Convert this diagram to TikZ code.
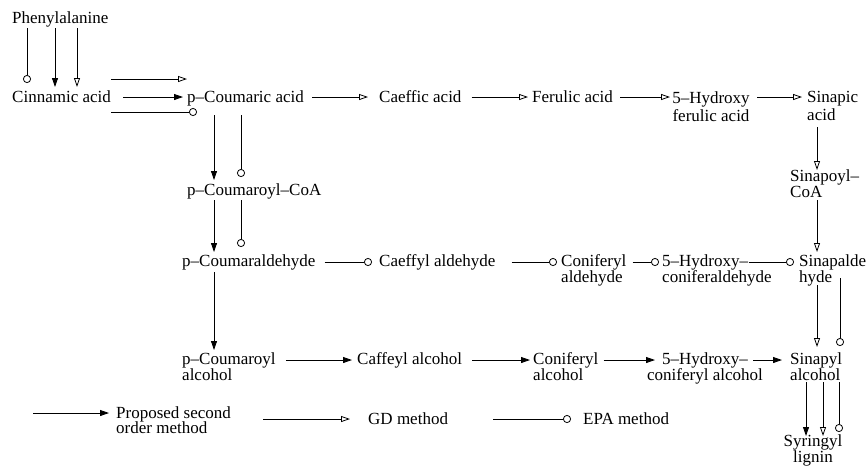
\documentclass[tikz,border=0pt]{standalone}
\usepackage{fontspec}
\setmainfont{Liberation Serif}
\usetikzlibrary{arrows.meta}

% label font and two-line labels (baseline = first line)
\newcommand\lbfont{\fontsize{17}{16.5}\selectfont}
\newcommand\twoc[3]{\vtop{\baselineskip=#1\relax\lineskiplimit=-100pt\halign{\hfil##\hfil\cr#2\cr#3\cr}}}
\newcommand\twoL[3]{\vtop{\baselineskip=#1\relax\lineskiplimit=-100pt\halign{##\hfil\cr#2\cr#3\cr}}}

\tikzset{
  lbl/.style={inner sep=0pt, font=\lbfont},
  conn/.style={line width=0.8pt, black},
  fa/.style={conn, -{Triangle[length=9pt,width=6pt]}},
  oa/.style={conn, -{Triangle[open,length=9pt,width=6pt]}},
  ca/.style={conn, -{Circle[open,length=8pt,width=8pt]}},
}

\begin{document}
\begin{tikzpicture}[x=1pt,y=1pt]
\useasboundingbox (0,0) rectangle (867,-467);

% compounds
\node[lbl,anchor=base west] (phe) at (12,-23) {Phenylalanine};
\node[lbl,anchor=base west] (cin) at (12,-102) {Cinnamic acid};
\node[lbl,anchor=base west] (pca) at (187,-102) {p–Coumaric acid};
\node[lbl,anchor=base west] (caf) at (379,-102) {Caeffic acid};
\node[lbl,anchor=base west] (fer) at (532,-102) {Ferulic acid};
\node[lbl,anchor=base] (hfa) at (711,-103) {\twoc{18pt}{5–Hydroxy}{ferulic acid}};
\node[lbl,anchor=base west] (sin) at (807,-102) {\twoL{18pt}{Sinapic}{acid}};
\node[lbl,anchor=base west] (pcc) at (187,-195) {p–Coumaroyl–CoA};
\node[lbl,anchor=base west] (spc) at (790,-181) {\twoL{16pt}{Sinapoyl–}{CoA}};
\node[lbl,anchor=base west] (pcald) at (182,-266) {p–Coumaraldehyde};
\node[lbl,anchor=base west] (cald) at (379,-266) {Caeffyl aldehyde};
\node[lbl,anchor=base west] (coald) at (561,-266) {\twoL{16pt}{Coniferyl}{aldehyde}};
\node[lbl,anchor=base west] (hcald) at (662,-266) {\twoL{16pt}{5–Hydroxy–}{coniferaldehyde}};
\node[lbl,anchor=base west] (spald) at (799,-266) {\twoL{16pt}{Sinapalde}{hyde}};
\node[lbl,anchor=base west] (pcalc) at (182,-364) {\twoL{16pt}{p–Coumaroyl}{alcohol}};
\node[lbl,anchor=base west] (caalc) at (357,-364) {Caffeyl alcohol};
\node[lbl,anchor=base west] (coalc) at (533,-364) {\twoL{16pt}{Coniferyl}{alcohol}};
\node[lbl,anchor=base] (hcalc) at (705,-364) {\twoc{16pt}{5–Hydroxy–}{coniferyl alcohol}};
\node[lbl,anchor=base west] (spalc) at (790,-364) {\twoL{16pt}{Sinapyl}{alcohol}};
\node[lbl,anchor=base] (syr) at (813,-446) {\twoc{16pt}{Syringyl}{lignin}};

% legend
\node[lbl,anchor=base west] (lg1) at (116,-418) {\twoL{15.5pt}{Proposed second}{order method}};
\node[lbl,anchor=base west] (gd) at (368,-424) {GD method};
\node[lbl,anchor=base west] (epa) at (583,-424) {EPA method};

% Phenylalanine -> Cinnamic acid
\draw[ca] ([xshift=15,yshift=-5]phe.base west) -- ([xshift=15,yshift=19]cin.base west);
\draw[fa] ([xshift=43,yshift=-5]phe.base west) -- ([xshift=43,yshift=15]cin.base west);
\draw[oa] ([xshift=65,yshift=-5]phe.base west) -- ([xshift=65,yshift=15]cin.base west);

% Cinnamic acid -> p-Coumaric acid
\draw[oa] ([yshift=23]cin.base east) -- ([yshift=23]pca.base west);
\draw[fa] ([xshift=12,yshift=5]cin.base east) -- ([xshift=-4,yshift=5]pca.base west);
\draw[ca] ([yshift=-10]cin.base east) -- ([xshift=10,yshift=-10]pca.base west);

% acid row
\draw[oa] ([xshift=8,yshift=5]pca.base east) -- ([xshift=-11,yshift=5]caf.base west);
\draw[oa] ([xshift=10,yshift=5]caf.base east) -- ([xshift=-4,yshift=5]fer.base west);
\draw[oa] ([xshift=7,yshift=5]fer.base east) -- ([xshift=-41,yshift=6]hfa.base);
\draw[oa] ([xshift=46,yshift=6]hfa.base) -- ([xshift=-5,yshift=5]sin.base west);

% sinapyl branch
\draw[oa] ([xshift=10,yshift=-25]sin.base west) -- ([xshift=27,yshift=11]spc.base west);
\draw[oa] ([xshift=27,yshift=-19]spc.base west) -- ([xshift=18,yshift=14]spald.base west);
\draw[oa] ([xshift=18,yshift=-19]spald.base west) -- ([xshift=27,yshift=17]spalc.base west);
\draw[ca] ([xshift=41,yshift=-12]spald.base west) -- ([xshift=50,yshift=18]spalc.base west);
\draw[fa] ([xshift=16,yshift=-18]spalc.base west) -- ([xshift=-7,yshift=10]syr.base);
\draw[oa] ([xshift=33,yshift=-18]spalc.base west) -- ([xshift=10,yshift=10]syr.base);
\draw[ca] ([xshift=49,yshift=-18]spalc.base west) -- ([xshift=26,yshift=14]syr.base);

% p-coumaryl branch
\draw[fa] ([xshift=27,yshift=-13]pca.base west) -- ([xshift=27,yshift=15]pcc.base west);
\draw[ca] ([xshift=54,yshift=-13]pca.base west) -- ([xshift=54,yshift=18]pcc.base west);
\draw[fa] ([xshift=27,yshift=-5]pcc.base west) -- ([xshift=32,yshift=14]pcald.base west);
\draw[ca] ([xshift=54,yshift=-5]pcc.base west) -- ([xshift=59,yshift=19]pcald.base west);
\draw[fa] ([xshift=32,yshift=-6]pcald.base west) -- ([xshift=32,yshift=14]pcalc.base west);

% aldehyde row
\draw[ca] ([xshift=9,yshift=4]pcald.base east) -- ([xshift=-7,yshift=4]cald.base west);
\draw[ca] ([xshift=16,yshift=4]cald.base east) -- ([xshift=-4,yshift=4]coald.base west);
\draw[ca] ([xshift=6,yshift=4]coald.base east) -- ([xshift=-3,yshift=4]hcald.base west);
\draw[ca] ([xshift=-23,yshift=4]hcald.base east) -- ([xshift=-5,yshift=4]spald.base west);

% alcohol row
\draw[fa] ([xshift=10,yshift=4]pcalc.base east) -- ([xshift=-5,yshift=4]caalc.base west);
\draw[fa] ([xshift=10,yshift=4]caalc.base east) -- ([xshift=-3,yshift=4]coalc.base west);
\draw[fa] ([xshift=5,yshift=4]coalc.base east) -- ([xshift=-50,yshift=4]hcalc.base);
\draw[fa] ([xshift=48,yshift=4]hcalc.base) -- ([xshift=-8,yshift=4]spalc.base west);

% legend keys
\draw[fa] ([xshift=-83,yshift=5]lg1.base west) -- ([xshift=-7,yshift=5]lg1.base west);
\draw[oa] ([xshift=-105,yshift=5]gd.base west) -- ([xshift=-18,yshift=5]gd.base west);
\draw[ca] ([xshift=-90,yshift=5]epa.base west) -- ([xshift=-12,yshift=5]epa.base west);
\end{tikzpicture}
\end{document}
